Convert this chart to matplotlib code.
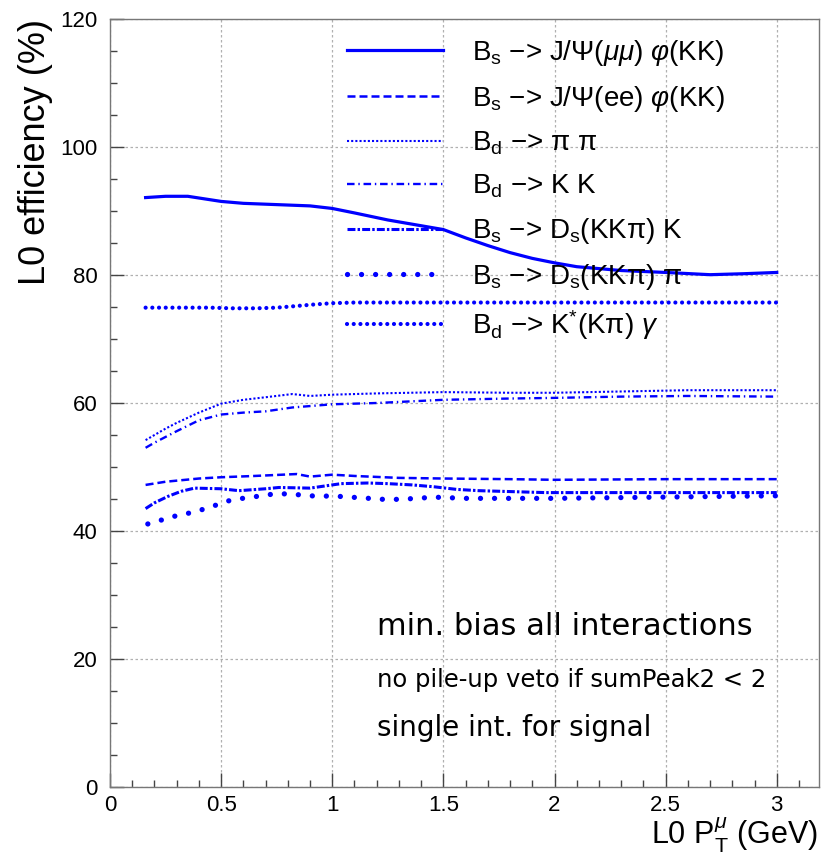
import matplotlib
matplotlib.use("Agg")
import matplotlib.pyplot as plt
from matplotlib.ticker import MultipleLocator

plt.rcParams['font.family'] = ['Liberation Sans', 'DejaVu Sans']
plt.rcParams['mathtext.fontset'] = 'custom'
plt.rcParams['mathtext.rm'] = 'Liberation Sans'
plt.rcParams['mathtext.it'] = 'Liberation Sans:italic'
plt.rcParams['mathtext.bf'] = 'Liberation Sans:bold'

# Bs -> J/psi(mumu) phi(KK)
x_mumu = [0.16, 0.25, 0.35, 0.5, 0.6, 0.75, 0.9, 1.0, 1.1, 1.25, 1.4, 1.5, 1.6, 1.7, 1.8, 1.9,
          2.0, 2.1, 2.2, 2.3, 2.5, 2.7, 2.85, 3.0]
y_mumu = [92.1, 92.3, 92.3, 91.5, 91.2, 91.0, 90.8, 90.4, 89.7, 88.6, 87.7, 87.1, 85.8, 84.6,
          83.5, 82.6, 81.9, 81.3, 81.0, 80.7, 80.4, 80.05, 80.2, 80.4]

# Bs -> J/psi(ee) phi(KK)
x_ee = [0.16, 0.25, 0.4, 0.5, 0.65, 0.84, 0.9, 1.0, 1.1, 1.3, 1.5, 1.8, 2.0, 2.5, 3.0]
y_ee = [47.2, 47.7, 48.2, 48.4, 48.6, 48.9, 48.5, 48.8, 48.6, 48.3, 48.2, 48.1, 48.0, 48.1, 48.1]

# Bd -> pi pi
x_pipi = [0.16, 0.2, 0.25, 0.3, 0.4, 0.5, 0.6, 0.7, 0.82, 0.9, 1.0, 1.2, 1.5, 1.8, 2.0, 2.3, 2.6, 3.0]
y_pipi = [54.2, 55.0, 56.0, 56.9, 58.5, 59.9, 60.5, 60.9, 61.4, 61.1, 61.3, 61.5, 61.7, 61.6,
          61.6, 61.8, 62.0, 62.0]

# Bd -> K K
x_kk = [0.16, 0.2, 0.25, 0.3, 0.4, 0.5, 0.6, 0.7, 0.82, 1.0, 1.2, 1.5, 1.8, 2.0, 2.3, 2.6, 3.0]
y_kk = [53.0, 53.8, 54.7, 55.6, 57.3, 58.2, 58.5, 58.7, 59.3, 59.8, 60.0, 60.5, 60.7, 60.8,
        61.0, 61.1, 61.0]

# Bs -> Ds(KKpi) K
x_dsk = [0.16, 0.2, 0.26, 0.32, 0.38, 0.5, 0.58, 0.7, 0.76, 0.9, 1.04, 1.16, 1.25, 1.36, 1.46,
         1.56, 1.66, 1.76, 1.96, 2.5, 3.0]
y_dsk = [43.5, 44.4, 45.4, 46.2, 46.7, 46.6, 46.3, 46.6, 46.8, 46.7, 47.4, 47.5, 47.4, 47.2,
         46.9, 46.5, 46.3, 46.2, 46.0, 46.0, 46.0]

# Bs -> Ds(KKpi) pi
x_dspi = [0.17, 0.24, 0.3, 0.37, 0.43, 0.49, 0.55, 0.62, 0.68, 0.74, 0.8, 0.87, 0.94, 1.0,
          1.07, 1.13, 1.2, 1.26, 1.32, 1.39, 1.45, 1.6, 2.0, 2.5, 3.0]
y_dspi = [41.1, 41.8, 42.4, 42.9, 43.5, 44.2, 44.9, 45.2, 45.5, 45.8, 45.8, 45.6, 45.4, 45.5,
          45.3, 45.2, 45.0, 44.9, 45.0, 45.1, 45.3, 45.1, 45.1, 45.3, 45.5]

# Bd -> K*(Kpi) gamma
x_kgam = [0.16, 0.3, 0.45, 0.55, 0.66, 0.75, 0.82, 0.92, 1.0, 1.1, 1.5, 2.0, 2.5, 3.0]
y_kgam = [74.9, 74.9, 74.9, 74.8, 74.8, 74.9, 75.1, 75.4, 75.6, 75.7, 75.7, 75.7, 75.7, 75.7]

labels = [
    r'B$_\mathrm{s}$ −> J/Ψ($\mu\mu$) $\varphi$(KK)',
    r'B$_\mathrm{s}$ −> J/Ψ(ee) $\varphi$(KK)',
    r'B$_\mathrm{d}$ −> π π',
    r'B$_\mathrm{d}$ −> K K',
    r'B$_\mathrm{s}$ −> D$_\mathrm{s}$(KKπ) K',
    r'B$_\mathrm{s}$ −> D$_\mathrm{s}$(KKπ) π',
    r'B$_\mathrm{d}$ −> K$^{*}$(Kπ) $\gamma$',
]

blue = '#0000ff'

fig = plt.figure(figsize=(8.23, 8.57), dpi=100)
ax = fig.add_axes([0.1337, 0.0817, 0.8614, 0.8961])

ax.plot(x_mumu, y_mumu, color=blue, lw=2.3, label=labels[0])
ax.plot(x_ee, y_ee, color=blue, lw=1.8, linestyle=(0, (3.2, 1.6)), label=labels[1])
ax.plot(x_pipi, y_pipi, color=blue, lw=1.5, linestyle=(0, (1, 1)), label=labels[2])
ax.plot(x_kk, y_kk, color=blue, lw=1.7, linestyle=(0, (3.2, 1.6, 0.6, 1.6)), label=labels[3])
ax.plot(x_dsk, y_dsk, color=blue, lw=2.2, linestyle=(0, (2.6, 0.7, 0.8, 0.7)), label=labels[4])
ax.plot(x_dspi, y_dspi, color=blue, lw=3.8, linestyle=(0, (0.01, 2.65)),
        dash_capstyle='round', label=labels[5])
ax.plot(x_kgam, y_kgam, color=blue, lw=3.0, linestyle=(0, (0.01, 1.6)),
        dash_capstyle='round', label=labels[6])

ax.set_xlim(0, 3.19)
ax.set_ylim(0, 120)
ax.xaxis.set_minor_locator(MultipleLocator(0.1))
ax.yaxis.set_major_locator(MultipleLocator(20))
ax.yaxis.set_minor_locator(MultipleLocator(5))
ax.set_xticks([0, 0.5, 1, 1.5, 2, 2.5, 3])
ax.set_xticklabels(['0', '0.5', '1', '1.5', '2', '2.5', '3'])
ax.tick_params(which='both', direction='in', top=False, right=False, labelsize=16, colors='#444444',
               labelcolor='black')
ax.tick_params(which='major', length=10, width=1)
ax.tick_params(which='minor', length=5, width=1)
ax.tick_params(axis='y', pad=9)
ax.tick_params(axis='x', pad=6)
ax.grid(True, which='major', color='#b0b0b0', linestyle=(0, (2, 2)), lw=0.9)
for s in ax.spines.values():
    s.set_color('#777777')
    s.set_linewidth(1)

ax.set_ylabel('L0 efficiency (%)', loc='top', fontsize=26, labelpad=5)
ax.set_xlabel(r'L0 P$_\mathrm{T}^{\mu}$ (GeV)', loc='right', fontsize=22)
ax.xaxis.set_label_coords(0.998, -0.037)

ax.legend(loc='upper left', bbox_to_anchor=(347 / 823, 1 - 38 / 857), bbox_transform=fig.transFigure,
          frameon=False, fontsize=20, handlelength=3.45, handletextpad=1.04, labelspacing=0.57,
          borderpad=0, borderaxespad=0)

ax.text(1.2, 23.75, 'min. bias all interactions', fontsize=22, family=['DejaVu Sans'])
ax.text(1.2, 15.7, 'no pile-up veto if sumPeak2 < 2', fontsize=17.5, family=['DejaVu Sans'])
ax.text(1.2, 7.9, 'single int. for signal', fontsize=20, family=['DejaVu Sans'])

fig.savefig('out.png', dpi=100)
